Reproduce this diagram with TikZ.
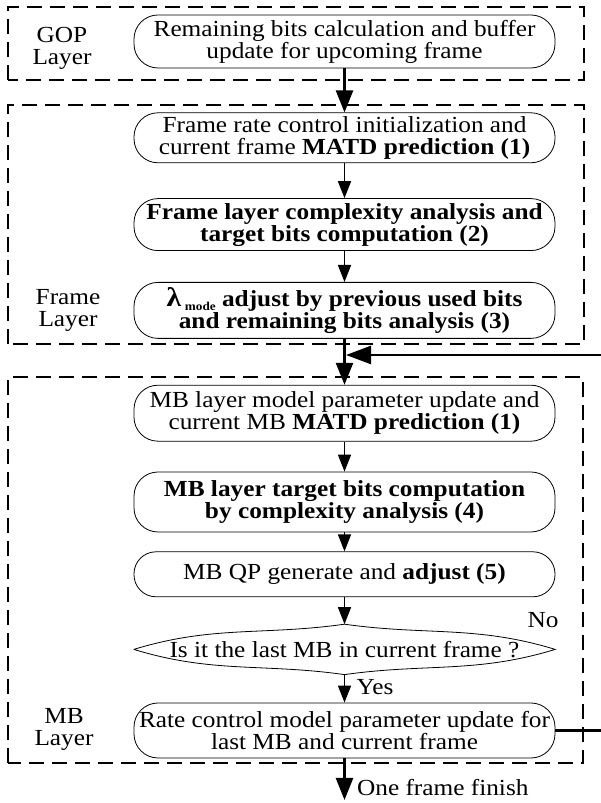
\documentclass[tikz,border=0pt]{standalone}
\usepackage{fontspec}
\setmainfont{Liberation Serif}[FakeStretch=1.1]
\usetikzlibrary{positioning,arrows.meta}

\begin{document}
\begin{tikzpicture}[
        x=1pt, y=1pt,
        every node/.style={align=center, font=\fontsize{23}{22}\selectfont},
        process/.style={rectangle, draw, rounded corners=24pt, line width=0.8pt, minimum width=421pt, inner xsep=1pt, inner ysep=0pt},
        decision/.style={rectangle, minimum width=421pt, minimum height=50pt, inner sep=0pt},
        layerbox/.style={line width=1.5pt, dash pattern=on 15pt off 8pt},
        bigarrow/.style={line width=2.5pt, -{Triangle[length=22pt,width=17pt]}},
        arrow/.style={line width=1.5pt, -{Triangle[length=17pt,width=13pt]}},
        feedback/.style={line width=2.5pt, -{Triangle[length=25pt,width=18pt]}}
    ]
    \useasboundingbox (0,0) rectangle (601,803);

    % Layer boxes
    \draw[layerbox] (8,723) rectangle (584,796);
    \draw[layerbox] (8,459) rectangle (584,698);
    \draw[layerbox] (8,40) rectangle (583,426);

    % Layer labels
    \node (goplabel) at (62,755) {GOP\\Layer};
    \node (framelabel) at (68,493) {Frame\\Layer};
    \node (mblabel) at (64,74) {MB\\Layer};

    % Nodes
    \node (gop) [process, minimum height=53pt] at (344.5,761.5) {Remaining bits calculation and buffer\\update for upcoming frame};

    \node (finit) [process, minimum height=50pt, below=44pt of gop] {Frame rate control initialization and\\current frame \textbf{MATD prediction (1)}};

    \node (fbits) [process, minimum height=52pt, below=35pt of finit] {\textbf{Frame layer complexity analysis and}\\\textbf{target bits computation (2)}};

    \node (flambda) [process, minimum height=56pt, below=31pt of fbits] {\textbf{{\fontsize{27}{22}\selectfont λ}\,\raisebox{-4pt}{\fontsize{12}{12}\selectfont mode} adjust by previous used bits}\\\textbf{and remaining bits analysis (3)}};

    \node (mbinit) [process, minimum height=56pt, below=46pt of flambda] {MB layer model parameter update and\\current MB \textbf{MATD prediction (1)}};

    \node (mbbits) [process, minimum height=60pt, below=30pt of mbinit] {\textbf{MB layer target bits computation}\\\textbf{by complexity analysis (4)}};

    \node (mbqp) [process, rounded corners=22pt, minimum height=45pt, below=19pt of mbbits] {MB QP generate and \textbf{adjust (5)}};

    \node (last) [decision, below=27pt of mbqp] {Is it the last MB in current frame ?};
    \draw[line width=0.8pt] (last.west) to[out=17,in=188] (last.north) to[out=-8,in=163] (last.east)
        to[out=197,in=8] (last.south) to[out=172,in=-17] (last.west);

    \node (rcupdate) [process, minimum height=55pt, below=28pt of last] {Rate control model parameter update for\\last MB and current frame};

    \coordinate (merge) at (346,448);
    \coordinate (finish) at (344.5,3);

    % Arrows
    \draw [bigarrow] (gop.south) -- (finit.north);
    \draw [arrow] (finit.south) -- (fbits.north);
    \draw [arrow] (fbits.south) -- (flambda.north);
    \draw [bigarrow] (flambda.south) -- (mbinit.north);
    \draw [arrow] (mbinit.south) -- (mbbits.north);
    \draw [arrow] (mbbits.south) -- (mbqp.north);
    \draw [arrow] (mbqp.south) -- (last.north);
    \draw [arrow] (last.south) -- (rcupdate.north) node[pos=0.45, right=8pt] (yes) {Yes};
    \node (no) at (543,183) {No};
    \draw [bigarrow] (rcupdate.south) -- (finish) node[pos=0.7, right=8pt, anchor=west] (done) {One frame finish};
    \draw [feedback] (rcupdate.east) -- ++(49,0) |- (merge);

    \end{tikzpicture}
\end{document}
